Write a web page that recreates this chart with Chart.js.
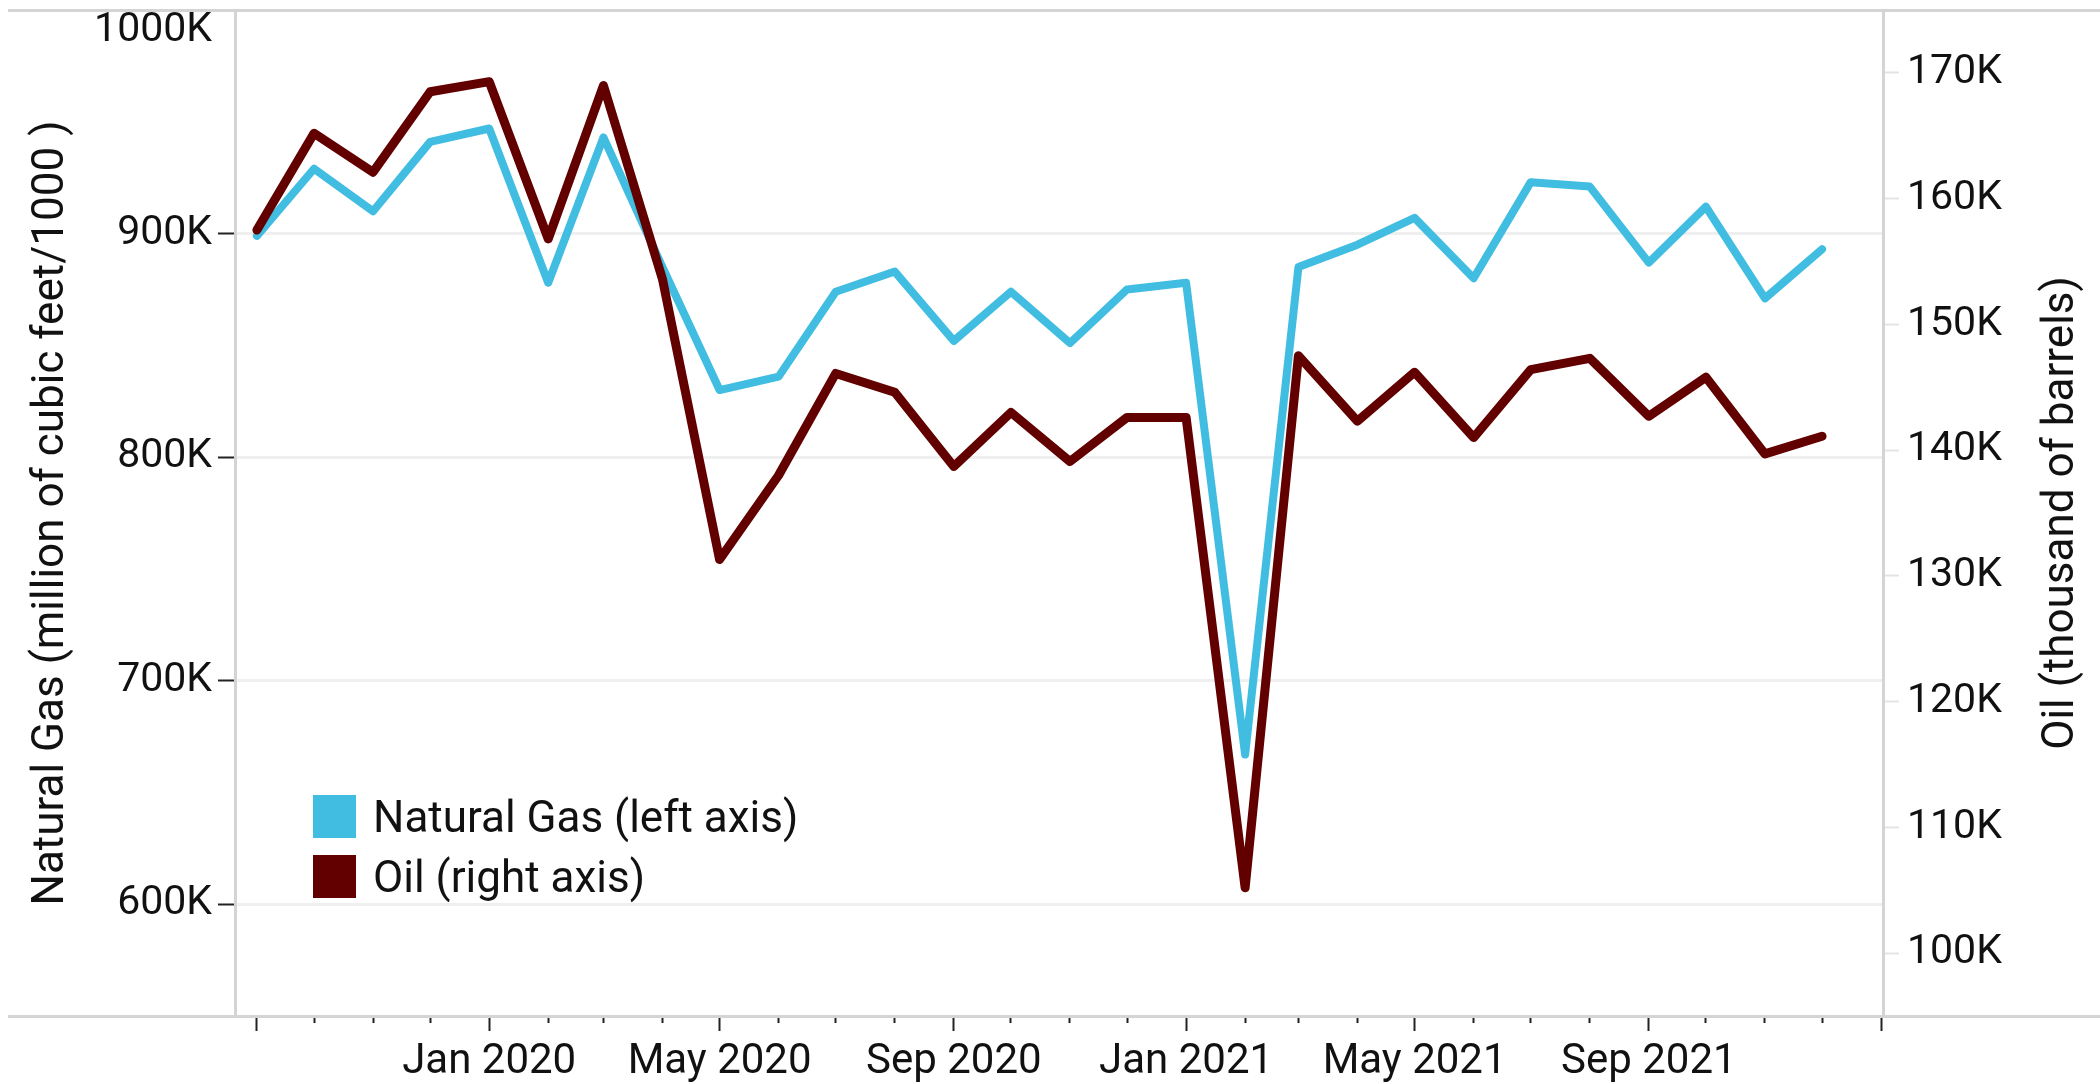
<!DOCTYPE html>
<html>
<head>
<meta charset="utf-8">
<title>Natural Gas and Oil</title>
<script src="https://cdn.jsdelivr.net/npm/chart.js@4.4.1/dist/chart.umd.min.js"></script>
<style>
  body { margin: 0; background: #fff; }
  #wrap { position: relative; width: 2100px; height: 1084px; }
  #frame { position: absolute; left: 8px; right: 0; top: 8.5px; height: 1009px; box-sizing: border-box;
           border-top: 3px solid #d4d4d4; border-bottom: 3px solid #d4d4d4; }
  #chart { position: absolute; left: 0; top: 0; }
  #legend { position: absolute; left: 313px; top: 795px; font: 44px Roboto, sans-serif; color: #111; }
  .item { display: flex; align-items: center; height: 43px; margin-bottom: 17px; white-space: nowrap; }
  .swatch { width: 43px; height: 43px; margin-right: 17px; flex: none; }
</style>
</head>
<body>
<div id="wrap">
  <div id="frame"></div>
  <canvas id="chart" width="2100" height="1084"></canvas>
  <div id="legend"></div>
</div>
<script>
// monthly values, Sep 2019 - Dec 2021
const months = [
  '2019-09', '2019-10', '2019-11', '2019-12',
  '2020-01', '2020-02', '2020-03', '2020-04', '2020-05', '2020-06',
  '2020-07', '2020-08', '2020-09', '2020-10', '2020-11', '2020-12',
  '2021-01', '2021-02', '2021-03', '2021-04', '2021-05', '2021-06',
  '2021-07', '2021-08', '2021-09', '2021-10', '2021-11', '2021-12'
];
// natural gas, thousands (left axis)
const gasValues = [899, 929, 910, 941, 947, 878, 943, 885, 830, 836, 874, 883, 852, 874,
                   851, 875, 878, 667, 885, 895, 907, 880, 923, 921, 887, 912, 871, 893];
// oil, thousands (right axis)
const oilValues = [157.5, 165.2, 162.1, 168.5, 169.3, 156.8, 169.0, 153.6, 131.3, 138.0,
                   146.1, 144.6, 138.7, 143.0, 139.1, 142.6, 142.6, 105.2, 147.5, 142.3,
                   146.2, 141.0, 146.4, 147.3, 142.7, 145.8, 139.7, 141.1];

const tickMonths = months.concat(['2022-01']);
const xLabelMonths = ['2020-01', '2020-05', '2020-09', '2021-01', '2021-05', '2021-09'];
const xTickLabels = ['Jan 2020', 'May 2020', 'Sep 2020', 'Jan 2021', 'May 2021', 'Sep 2021'];
const gasTicks = [600, 700, 800, 900, 1000];
const oilTicks = [100, 110, 120, 130, 140, 150, 160, 170];

const gasLabel = 'Natural Gas (left axis)';
const oilLabel = 'Oil (right axis)';
const gasAxisTitle = 'Natural Gas (million of cubic feet/1000 )';
const oilAxisTitle = 'Oil (thousand of barrels)';
const gasColor = '#41bde1';
const oilColor = '#620000';
const textColor = '#111';
const frameColor = '#d4d4d4';

// days since the first month, so months of different length are spaced as on a date axis
function dayIndex(ym) {
    const [y, m] = ym.split('-').map(Number);
    return (Date.UTC(y, m - 1, 1) - Date.UTC(2019, 8, 1)) / 864e5;
}
const days = months.map(dayIndex);
const tickDays = tickMonths.map(dayIndex);
const labelDays = xLabelMonths.map(dayIndex);
const longTick = v => {
    const ym = tickMonths[tickDays.indexOf(v)];
    return ym && [1, 5, 9].includes(Number(ym.slice(5)));
};

Chart.defaults.font.family = 'Roboto';
Chart.defaults.color = textColor;

// right title reads bottom-to-top like the left one
const oilTitlePlugin = {
    id: 'oilTitle',
    afterDraw(chart) {
        const s = chart.scales.yOil;
        const ctx = chart.ctx;
        ctx.save();
        ctx.translate(s.right - 38, (s.top + s.bottom) / 2);
        ctx.rotate(-Math.PI / 2);
        ctx.font = '44px Roboto';
        ctx.fillStyle = textColor;
        ctx.textAlign = 'center';
        ctx.textBaseline = 'middle';
        ctx.fillText(oilAxisTitle, 0, 0);
        ctx.restore();
    }
};

const ctx = document.getElementById('chart').getContext('2d');
const chart = new Chart(ctx, {
    type: 'line',
    data: {
        datasets: [{
            label: gasLabel,
            data: gasValues.map((v, i) => ({ x: days[i], y: v })),
            yAxisID: 'yGas',
            borderColor: gasColor,
            backgroundColor: gasColor,
            borderWidth: 8,
            borderCapStyle: 'round',
            borderJoinStyle: 'round',
            pointRadius: 0,
            order: 1
        }, {
            label: oilLabel,
            data: oilValues.map((v, i) => ({ x: days[i], y: v })),
            yAxisID: 'yOil',
            borderColor: oilColor,
            backgroundColor: oilColor,
            borderWidth: 9,
            borderCapStyle: 'round',
            borderJoinStyle: 'round',
            pointRadius: 0,
            order: 0
        }]
    },
    options: {
        responsive: false,
        animation: false,
        layout: { padding: { top: 10, left: 0, right: 0, bottom: 0 } },
        plugins: { legend: { display: false }, tooltip: { enabled: false } },
        scales: {
            x: {
                type: 'linear',
                min: -11.5,
                max: 854,
                afterBuildTicks: s => { s.ticks = tickDays.map(v => ({ value: v })); },
                afterFit: s => { s.height = 68; s.paddingLeft = 0; s.paddingRight = 0; },
                grid: {
                    drawOnChartArea: false,
                    tickLength: 15,
                    tickWidth: 2,
                    tickColor: '#222',
                    tickBorderDash: c => longTick(c.tick.value) ? [] : [5, 40]
                },
                border: { color: frameColor, width: 3 },
                ticks: {
                    autoSkip: false,
                    maxRotation: 0,
                    padding: 6,
                    font: { size: 42 },
                    callback: v => {
                        const k = labelDays.indexOf(v);
                        return k >= 0 ? xTickLabels[k] : '';
                    }
                }
            },
            yGas: {
                position: 'left',
                min: 550,
                max: 1000,
                afterBuildTicks: s => { s.ticks = gasTicks.map(v => ({ value: v })); },
                afterFit: s => { s.width = 235; s.paddingTop = 0; s.paddingBottom = 0; },
                grid: {
                    color: c => c.tick && c.tick.value === 1000 ? 'rgba(0,0,0,0)' : '#efefef',
                    lineWidth: 3,
                    tickLength: 17,
                    tickWidth: 2,
                    tickColor: c => c.tick && c.tick.value === 1000 ? 'rgba(0,0,0,0)' : '#222'
                },
                border: { color: frameColor, width: 3 },
                ticks: {
                    padding: 6,
                    font: { size: 41, lineHeight: 1 },
                    callback: v => v === 1000 ? ['', v + 'K'] : v + 'K'
                },
                title: {
                    display: true,
                    text: gasAxisTitle,
                    font: { size: 44, lineHeight: 1 },
                    padding: { top: 30, bottom: 0 }
                }
            },
            yOil: {
                position: 'right',
                min: 95,
                max: 175,
                afterBuildTicks: s => { s.ticks = oilTicks.map(v => ({ value: v })); },
                afterFit: s => { s.width = 217; s.paddingTop = 0; s.paddingBottom = 0; },
                grid: {
                    drawOnChartArea: false,
                    tickLength: 16,
                    tickWidth: 2,
                    tickColor: '#e4e4e4'
                },
                border: { color: frameColor, width: 3 },
                ticks: {
                    padding: 8,
                    font: { size: 41, lineHeight: 1 },
                    callback: v => v + 'K'
                }
            }
        }
    },
    plugins: [oilTitlePlugin]
});

// legend built from the datasets
const legend = document.getElementById('legend');
chart.data.datasets.forEach(ds => {
    const item = document.createElement('div');
    item.className = 'item';
    const sw = document.createElement('span');
    sw.className = 'swatch';
    sw.style.background = ds.borderColor;
    const txt = document.createElement('span');
    txt.textContent = ds.label;
    item.appendChild(sw);
    item.appendChild(txt);
    legend.appendChild(item);
});
</script>
</body>
</html>
